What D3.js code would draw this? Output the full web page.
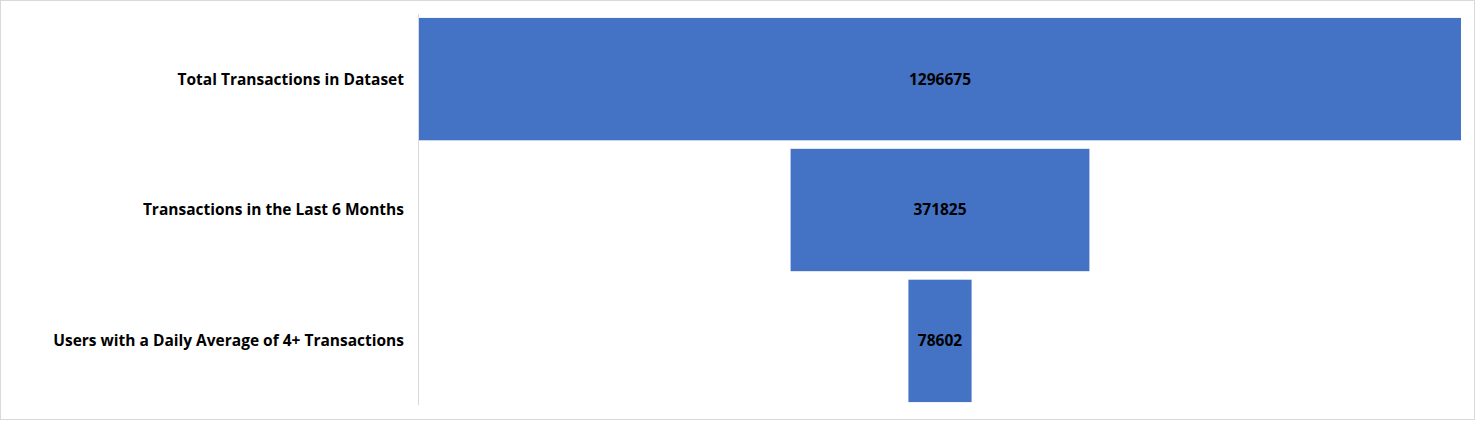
<!DOCTYPE html>
<html><head><meta charset="utf-8">
<script src="https://cdn.jsdelivr.net/npm/d3@7"></script>
<style>body{margin:0;background:#fff}</style></head>
<body><svg id="c" width="1476" height="421"></svg>
<script>
const categories = ["Total Transactions in Dataset","Transactions in the Last 6 Months","Users with a Daily Average of 4+ Transactions"];
const values = [1296675, 371825, 78602];

const svg = d3.select("#c");
svg.append("rect").attr("x",0.5).attr("y",0.5).attr("width",1474).attr("height",419)
  .attr("fill","#fff").attr("stroke","#d9d9d9");
const left = 419, right = 1461, cx = (left+right)/2;
const y = d3.scaleBand().domain(categories).range([14,406]).paddingInner(0.065).paddingOuter(0.03);
const w = d3.scaleLinear().domain([0, d3.max(values)]).range([0, right-left]);
svg.append("line").attr("x1",418.5).attr("x2",418.5).attr("y1",14).attr("y2",405).attr("stroke","#d9d9d9");
const font = "'Open Sans', 'Noto Sans', sans-serif";
categories.forEach((c,i)=>{
  svg.append("rect").attr("x",cx - w(values[i])/2).attr("y",y(c)).attr("width",w(values[i])).attr("height",y.bandwidth()).attr("fill","#4472C4");
  svg.append("text").attr("x",cx).attr("y",y(c)+y.bandwidth()/2).attr("dy","0.35em").attr("text-anchor","middle")
    .attr("font-family",font).attr("font-weight","bold").attr("font-size",15.5).attr("fill","#000").text(values[i]);
  svg.append("text").attr("x",404).attr("y",y(c)+y.bandwidth()/2).attr("dy","0.35em").attr("text-anchor","end")
    .attr("font-family",font).attr("font-weight","bold").attr("font-size",15.5).attr("fill","#000").text(c);
});
</script></body></html>
